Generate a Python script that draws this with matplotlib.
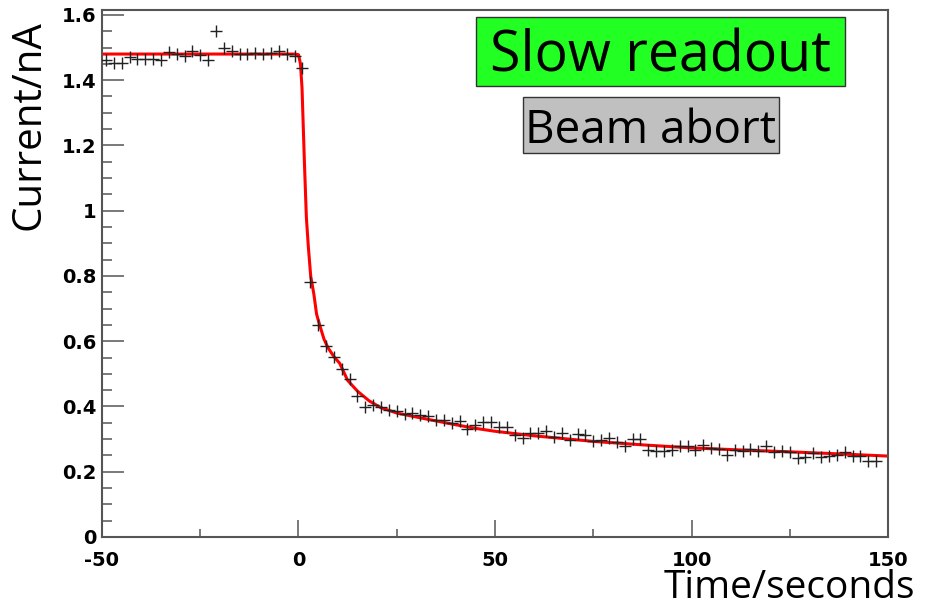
import numpy as np
import matplotlib
matplotlib.use('Agg')
import matplotlib.pyplot as plt
from matplotlib.patches import Rectangle
from matplotlib.ticker import MultipleLocator

# measured points, one every 2 s
t = np.arange(-49, 148, 2)
current = [1.462, 1.452, 1.452, 1.470, 1.465, 1.465, 1.465, 1.463, 1.485, 1.480,
           1.475, 1.490, 1.476, 1.463, 1.550, 1.498, 1.490, 1.480, 1.480, 1.484,
           1.480, 1.484, 1.490, 1.480, 1.474, 1.437, 0.782, 0.650, 0.585, 0.553,
           0.515, 0.485, 0.432, 0.399, 0.406, 0.398, 0.390, 0.386, 0.377, 0.380,
           0.375, 0.372, 0.358, 0.358, 0.350, 0.355, 0.332, 0.343, 0.352, 0.351,
           0.337, 0.336, 0.314, 0.304, 0.319, 0.318, 0.324, 0.306, 0.319, 0.297,
           0.317, 0.312, 0.293, 0.296, 0.302, 0.290, 0.279, 0.300, 0.300, 0.267,
           0.265, 0.265, 0.268, 0.280, 0.280, 0.266, 0.282, 0.272, 0.271, 0.251,
           0.266, 0.263, 0.270, 0.263, 0.278, 0.262, 0.264, 0.260, 0.242, 0.244,
           0.258, 0.246, 0.248, 0.250, 0.261, 0.249, 0.248, 0.233, 0.233]

fit_t = [-50, -1, 0, 0.5, 0.9, 1.5, 2.0, 2.5, 3.1, 3.9, 4.6, 5.5, 6.5, 7.5, 9.0,
         10.5, 12.5, 15.0, 18.0, 21.0, 25.0, 29.0, 34.0, 40.0, 45.0, 50.0, 60.0,
         75.0, 88.0, 100.0, 112.0, 125.0, 137.0, 150.0]
fit_y = [1.480, 1.480, 1.478, 1.45, 1.375, 1.15, 0.98, 0.89, 0.80, 0.745, 0.683,
         0.645, 0.606, 0.580, 0.553, 0.532, 0.480, 0.447, 0.417, 0.396, 0.380,
         0.370, 0.358, 0.344, 0.333, 0.324, 0.310, 0.293, 0.282, 0.273, 0.267,
         0.261, 0.255, 0.248]

fig = plt.figure(figsize=(9.28, 6.06), dpi=100)
ax = fig.add_axes([102/928, 1-537/606, 786/928, 527/606])

ax.plot(t, current, '+', color='#222222', ms=8, mew=1.0, zorder=3)
ax.plot(fit_t, fit_y, '-', color='red', lw=2.2, zorder=2)

ax.set_xlim(-50, 150)
ax.set_ylim(0, 1.615)
ax.xaxis.set_major_locator(MultipleLocator(50))
ax.xaxis.set_minor_locator(MultipleLocator(25))
ax.yaxis.set_major_locator(MultipleLocator(0.2))
ax.yaxis.set_minor_locator(MultipleLocator(0.05))
ax.set_xticks([-50, 0, 50, 100, 150], ['-50', '0', '50', '100', '150'])
ax.set_yticks([0, 0.2, 0.4, 0.6, 0.8, 1.0, 1.2, 1.4, 1.6],
              ['0', '0.2', '0.4', '0.6', '0.8', '1', '1.2', '1.4', '1.6'])

for s in ax.spines.values():
    s.set_color('#555555')
    s.set_linewidth(1.5)
ax.tick_params(axis='both', which='both', direction='in', color='#555555',
               width=1.1, top=False, right=False)
ax.tick_params(axis='x', which='major', length=12, pad=10)
ax.tick_params(axis='x', which='minor', length=6)
ax.tick_params(axis='y', which='major', length=16, pad=4)
ax.tick_params(axis='y', which='minor', length=7)
for lab in ax.get_xticklabels() + ax.get_yticklabels():
    lab.set_fontsize(14)
    lab.set_fontweight('bold')
    lab.set_family('DejaVu Sans')

fig.text(915/928, 1-598/606, 'Time/seconds', ha='right', va='baseline',
         fontsize=28, family='Open Sans')
fig.text(50/928, 1-20/606, 'Current/nA', ha='right', va='top', rotation=90,
         fontsize=29, family='Open Sans')

# labels in boxes
fig.patches.append(Rectangle((476/928, 1-86/606), 369/928, 69/606,
                             transform=fig.transFigure, facecolor='#22ff22',
                             edgecolor='#333333', lw=1))
fig.text(660.5/928, 1-71.7/606, 'Slow readout', ha='center', va='baseline',
         fontsize=40, family='Open Sans')
fig.patches.append(Rectangle((522.7/928, 1-152.7/606), 256.6/928, 56/606,
                             transform=fig.transFigure, facecolor='#c0c0c0',
                             edgecolor='#333333', lw=1))
fig.text(651/928, 1-143.3/606, 'Beam abort', ha='center', va='baseline',
         fontsize=33, family='Open Sans')

fig.savefig('out.png', dpi=100)
